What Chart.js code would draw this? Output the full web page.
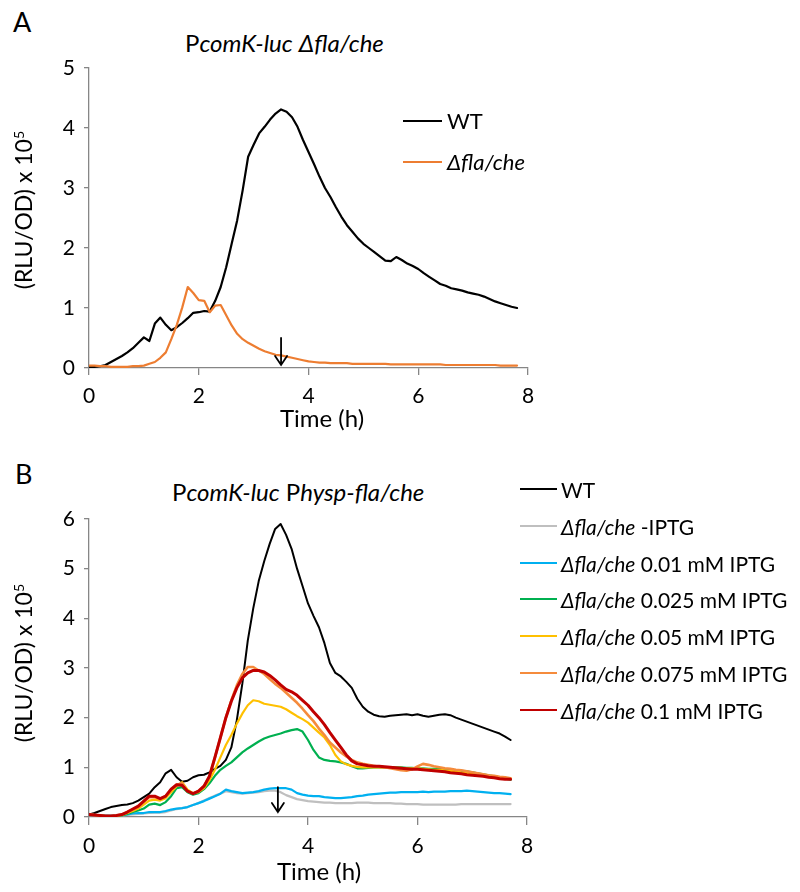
<!DOCTYPE html>
<html><head><meta charset="utf-8">
<script src="https://cdn.jsdelivr.net/npm/chart.js@4.4.1/dist/chart.umd.min.js"></script>
<style>
body{margin:0;background:#fff;width:800px;height:892px;position:relative;overflow:hidden;font-family:Lato,'Open Sans',sans-serif;color:#000}
.t{position:absolute;white-space:nowrap;line-height:1}
canvas{position:absolute;left:0}
.ln{position:absolute;height:2px}
i{font-style:italic}
sup{font-size:0.62em;vertical-align:0;position:relative;top:-0.55em}
</style></head><body>
<div class="t" style="left:13px;top:8px;font-size:27px">A</div>
<div class="t" style="left:185px;top:31px;font-size:24px">P<i>comK-luc</i> <i>Δfla/che</i></div>
<div class="t" style="left:15px;top:460px;font-size:27px">B</div>
<div class="t" style="left:172px;top:480px;font-size:24px">P<i>comK-luc</i> P<i>hysp-fla/che</i></div>

<canvas id="cA" width="560" height="430" style="top:0"></canvas>
<canvas id="cB" width="560" height="452" style="top:440px"></canvas>

<div class="t" style="left:23px;top:210px;font-size:23px;transform:translate(-50%,-50%) rotate(-90deg)">(RLU/OD) x 10<sup>5</sup></div>
<div class="t" style="left:23px;top:663px;font-size:23px;transform:translate(-50%,-50%) rotate(-90deg)">(RLU/OD) x 10<sup>5</sup></div>
<div class="t" style="left:322px;top:418px;font-size:24px;transform:translate(-50%,-50%)">Time (h)</div>
<div class="t" style="left:319px;top:871px;font-size:24px;transform:translate(-50%,-50%)">Time (h)</div>

<div id="legA"></div>
<div id="legB"></div>

<script>
// ---------- Panel A data ----------
const timesA = [0.0,0.1,0.2,0.3,0.4,0.5,0.6,0.7,0.8,0.9,1.0,1.1,1.2,1.3,1.4,1.5,1.6,1.7,1.8,1.9,
  2.0,2.1,2.2,2.3,2.4,2.5,2.6,2.7,2.8,2.9,3.0,3.1,3.2,3.3,3.4,3.5,3.6,3.7,3.8,3.9,
  4.0,4.1,4.2,4.3,4.4,4.5,4.6,4.7,4.8,4.9,5.0,5.1,5.2,5.3,5.4,5.5,5.6,5.7,5.8,5.9,
  6.0,6.1,6.2,6.3,6.4,6.5,6.6,6.7,6.8,6.9,7.0,7.1,7.2,7.3,7.4,7.5,7.6,7.7,7.8];
const wtA = [0.02,0.02,0.03,0.05,0.10,0.15,0.20,0.26,0.33,0.42,0.51,0.45,0.74,0.84,0.72,0.63,0.68,0.75,0.83,0.92,
  0.93,0.95,0.94,1.12,1.35,1.68,2.07,2.46,2.96,3.52,3.72,3.91,4.02,4.14,4.24,4.31,4.27,4.18,4.02,3.80,
  3.60,3.40,3.19,3.00,2.85,2.68,2.52,2.38,2.27,2.16,2.07,2.00,1.93,1.86,1.79,1.78,1.85,1.80,1.74,1.70,
  1.65,1.58,1.52,1.46,1.40,1.37,1.33,1.31,1.29,1.26,1.24,1.22,1.19,1.15,1.11,1.08,1.05,1.02,1.00];
const flaA = [0.04,0.04,0.03,0.03,0.02,0.02,0.02,0.02,0.03,0.03,0.04,0.07,0.10,0.17,0.26,0.48,0.72,1.01,1.35,1.25,
  1.13,1.12,0.93,1.04,1.05,0.88,0.71,0.57,0.48,0.42,0.37,0.32,0.28,0.25,0.22,0.21,0.19,0.17,0.15,0.13,
  0.11,0.10,0.09,0.09,0.08,0.08,0.08,0.08,0.07,0.07,0.07,0.07,0.07,0.07,0.07,0.06,0.06,0.06,0.06,0.06,
  0.06,0.06,0.06,0.06,0.06,0.05,0.05,0.05,0.05,0.05,0.05,0.05,0.05,0.05,0.05,0.04,0.04,0.04,0.04];
const ticksA = [0,1,2,3,4,5];
const arrowA = {x:3.5, from:0.5, to:0.05};

// ---------- Panel B data ----------
const timesB = [0.0,0.1,0.2,0.3,0.4,0.5,0.6,0.7,0.8,0.9,1.0,1.1,1.2,1.3,1.4,1.5,1.6,1.7,1.8,1.9,
  2.0,2.1,2.2,2.3,2.4,2.5,2.6,2.7,2.8,2.9,3.0,3.1,3.2,3.3,3.4,3.5,3.6,3.7,3.8,3.9,
  4.0,4.1,4.2,4.3,4.4,4.5,4.6,4.7,4.8,4.9,5.0,5.1,5.2,5.3,5.4,5.5,5.6,5.7,5.8,5.9,
  6.0,6.1,6.2,6.3,6.4,6.5,6.6,6.7,6.8,6.9,7.0,7.1,7.2,7.3,7.4,7.5,7.6,7.7];
const wtB = [0.05,0.08,0.12,0.16,0.20,0.22,0.24,0.25,0.28,0.33,0.40,0.47,0.60,0.70,0.88,0.95,0.80,0.71,0.73,0.80,
  0.84,0.85,0.90,0.97,1.03,1.15,1.40,1.95,2.68,3.55,4.20,4.75,5.15,5.50,5.80,5.90,5.68,5.40,5.00,4.65,
  4.30,4.05,3.82,3.50,3.10,2.90,2.83,2.72,2.60,2.38,2.22,2.12,2.06,2.03,2.02,2.04,2.05,2.06,2.07,2.05,
  2.07,2.04,2.02,2.04,2.06,2.07,2.05,2.00,1.96,1.92,1.88,1.84,1.80,1.76,1.72,1.68,1.62,1.55];
const noIptgB = [0.05,0.04,0.03,0.03,0.02,0.02,0.03,0.04,0.05,0.06,0.07,0.08,0.09,0.09,0.10,0.13,0.16,0.18,0.20,0.24,
  0.28,0.33,0.38,0.43,0.47,0.52,0.50,0.48,0.47,0.48,0.49,0.50,0.52,0.53,0.53,0.50,0.44,0.40,0.36,0.34,
  0.32,0.31,0.30,0.29,0.29,0.28,0.28,0.28,0.28,0.29,0.29,0.29,0.28,0.28,0.28,0.28,0.27,0.27,0.26,0.26,
  0.26,0.25,0.25,0.25,0.25,0.25,0.25,0.25,0.26,0.26,0.26,0.26,0.26,0.26,0.26,0.26,0.26,0.26];
const iptg001B = [0.05,0.04,0.03,0.03,0.03,0.03,0.04,0.05,0.07,0.08,0.08,0.10,0.10,0.10,0.12,0.15,0.17,0.18,0.20,0.24,
  0.28,0.32,0.37,0.42,0.47,0.55,0.52,0.50,0.48,0.49,0.50,0.52,0.55,0.57,0.58,0.58,0.58,0.55,0.48,0.45,
  0.43,0.42,0.42,0.40,0.39,0.38,0.38,0.39,0.40,0.42,0.43,0.45,0.46,0.47,0.48,0.49,0.49,0.50,0.50,0.50,
  0.50,0.51,0.50,0.51,0.51,0.51,0.52,0.52,0.52,0.53,0.52,0.51,0.50,0.49,0.48,0.48,0.47,0.46];
const iptg0025B = [0.05,0.04,0.03,0.02,0.02,0.02,0.03,0.06,0.10,0.13,0.17,0.25,0.27,0.24,0.30,0.42,0.58,0.60,0.50,0.45,
  0.48,0.56,0.68,0.83,0.95,1.03,1.10,1.20,1.30,1.38,1.45,1.52,1.58,1.62,1.65,1.68,1.72,1.75,1.77,1.72,
  1.55,1.35,1.20,1.15,1.13,1.12,1.10,1.07,1.02,0.98,0.98,0.99,1.00,1.00,1.00,1.00,1.00,1.00,0.99,0.99,
  0.98,0.98,0.97,0.97,0.97,0.96,0.95,0.94,0.93,0.92,0.90,0.88,0.86,0.84,0.82,0.80,0.77,0.75];
const iptg005B = [0.05,0.04,0.03,0.02,0.02,0.02,0.04,0.08,0.12,0.17,0.25,0.33,0.35,0.33,0.38,0.50,0.62,0.70,0.55,0.48,
  0.50,0.58,0.74,0.95,1.20,1.45,1.65,1.88,2.08,2.25,2.35,2.33,2.28,2.26,2.24,2.22,2.17,2.10,2.03,1.97,
  1.90,1.80,1.70,1.60,1.45,1.25,1.12,1.06,1.03,1.01,1.00,1.00,1.00,1.00,1.00,1.00,0.99,0.99,0.98,0.98,
  0.98,0.97,0.96,0.95,0.95,0.94,0.93,0.92,0.90,0.89,0.88,0.86,0.85,0.83,0.82,0.80,0.79,0.78];
const iptg0075B = [0.05,0.04,0.03,0.02,0.02,0.03,0.05,0.10,0.15,0.20,0.30,0.40,0.40,0.36,0.42,0.55,0.65,0.68,0.52,0.47,
  0.52,0.62,0.82,1.20,1.60,2.00,2.35,2.65,2.88,3.02,3.02,2.95,2.88,2.78,2.68,2.60,2.50,2.40,2.30,2.18,
  2.05,1.93,1.78,1.65,1.50,1.40,1.30,1.22,1.15,1.10,1.07,1.05,1.03,1.01,1.00,0.98,0.96,0.94,0.93,0.96,
  1.02,1.07,1.05,1.02,1.00,0.98,0.97,0.95,0.94,0.92,0.90,0.88,0.86,0.84,0.83,0.81,0.80,0.78];
const iptg01B = [0.05,0.04,0.03,0.02,0.02,0.03,0.05,0.10,0.16,0.22,0.32,0.42,0.42,0.37,0.42,0.56,0.65,0.64,0.52,0.47,
  0.52,0.62,0.82,1.20,1.60,2.00,2.33,2.60,2.80,2.90,2.95,2.95,2.92,2.85,2.76,2.66,2.57,2.52,2.45,2.35,
  2.25,2.12,2.00,1.86,1.70,1.55,1.40,1.25,1.13,1.07,1.05,1.03,1.02,1.02,1.01,1.00,0.99,0.98,0.97,0.96,
  0.96,0.95,0.94,0.93,0.92,0.91,0.89,0.88,0.87,0.85,0.84,0.83,0.82,0.80,0.79,0.77,0.76,0.76];
const ticksB = [0,1,2,3,4,5,6];
const arrowB = {x:3.45, from:0.6, to:0.1};

// ---------- helpers ----------
const pts = (times, vals) => times.map((t, i) => ({x: t, y: vals[i]}));
const AX = '#868686';
const tickFont = {family: 'Lato', size: 21};

const arrowPlugin = {
  id: 'arrow',
  afterDatasetsDraw(chart, args, opts) {
    const a = opts.arrow; if (!a) return;
    const xs = chart.scales.x, ys = chart.scales.y, ctx = chart.ctx;
    const x = xs.getPixelForValue(a.x), y1 = ys.getPixelForValue(a.from), y2 = ys.getPixelForValue(a.to);
    ctx.save();
    ctx.strokeStyle = '#000'; ctx.lineWidth = 1.8; ctx.lineCap = 'round';
    ctx.beginPath(); ctx.moveTo(x, y1); ctx.lineTo(x, y2);
    ctx.moveTo(x - 6, y2 - 9); ctx.lineTo(x, y2); ctx.lineTo(x + 6, y2 - 9);
    ctx.stroke(); ctx.restore();
  }
};

function makeChart(id, datasets, ymax, xTickLen, pad, xHeight, arrow) {
  return new Chart(document.getElementById(id), {
    type: 'line',
    data: {datasets},
    plugins: [arrowPlugin],
    options: {
      responsive: false, animation: false, events: [],
      layout: {padding: pad},
      plugins: {legend: {display: false}, tooltip: {enabled: false}, arrow: {arrow}},
      elements: {point: {radius: 0}, line: {tension: 0, borderCapStyle: 'round', borderJoinStyle: 'round'}},
      scales: {
        x: {type: 'linear', min: 0, max: 8,
            ticks: {stepSize: 2, color: '#000', font: tickFont, padding: 9, maxRotation: 0},
            grid: {drawOnChartArea: false, drawTicks: true, tickLength: xTickLen, color: AX, lineWidth: 1.3},
            border: {color: AX, width: 1.3},
            afterFit: s => { s.height = xHeight; }},
        y: {min: 0, max: ymax,
            ticks: {stepSize: 1, color: '#000', font: tickFont, padding: 9},
            grid: {drawOnChartArea: false, drawTicks: true, tickLength: 5, color: AX, lineWidth: 1.3},
            border: {color: AX, width: 1.3},
            afterFit: s => { s.width = 49; }}
      }
    }
  });
}

makeChart('cA', [
  {data: pts(timesA, wtA), borderColor: '#000000', borderWidth: 2.2, order: 1},
  {data: pts(timesA, flaA), borderColor: '#ED7D31', borderWidth: 2.2, order: 0}
], 5, 7, {top: 68, left: 40, right: 32, bottom: 0}, 62, arrowA);

makeChart('cB', [
  {data: pts(timesB, wtB), borderColor: '#000000', borderWidth: 2, order: 6},
  {data: pts(timesB, noIptgB), borderColor: '#BFBFBF', borderWidth: 2.2, order: 5},
  {data: pts(timesB, iptg001B), borderColor: '#00B0F0', borderWidth: 2.2, order: 4},
  {data: pts(timesB, iptg0025B), borderColor: '#00B050', borderWidth: 2.2, order: 3},
  {data: pts(timesB, iptg005B), borderColor: '#FFC000', borderWidth: 2.2, order: 2},
  {data: pts(timesB, iptg0075B), borderColor: '#F58B3C', borderWidth: 2.6, order: 1},
  {data: pts(timesB, iptg01B), borderColor: '#C00000', borderWidth: 3, order: 0}
], 6, 8, {top: 79, left: 40, right: 33, bottom: 0}, 75, arrowB);

// ---------- legends (HTML text) ----------
const legendA = [['#000000', 'WT'], ['#ED7D31', '<i>Δfla/che</i>']];
const legendB = [
  ['#000000', 'WT'],
  ['#BFBFBF', '<i>Δfla/che</i> -IPTG'],
  ['#00B0F0', '<i>Δfla/che</i> 0.01 mM IPTG'],
  ['#00B050', '<i>Δfla/che</i> 0.025 mM IPTG'],
  ['#FFC000', '<i>Δfla/che</i> 0.05 mM IPTG'],
  ['#F58B3C', '<i>Δfla/che</i> 0.075 mM IPTG'],
  ['#C00000', '<i>Δfla/che</i> 0.1 mM IPTG']
];
let h = '';
legendA.forEach((e, i) => {
  const y = 121 + i * 41;
  h += `<div class="ln" style="left:403px;top:${y - 1}px;width:39px;background:${e[0]}"></div>`;
  h += `<div class="t" style="left:447px;top:${y}px;font-size:22px;transform:translateY(-50%)">${e[1]}</div>`;
});
document.getElementById('legA').innerHTML = h;
h = '';
legendB.forEach((e, i) => {
  const y = 489 + i * 36.8;
  h += `<div class="ln" style="left:520px;top:${y - 1}px;width:37px;background:${e[0]}"></div>`;
  h += `<div class="t" style="left:561px;top:${y}px;font-size:21px;transform:translateY(-50%)">${e[1]}</div>`;
});
document.getElementById('legB').innerHTML = h;
</script>
</body></html>
